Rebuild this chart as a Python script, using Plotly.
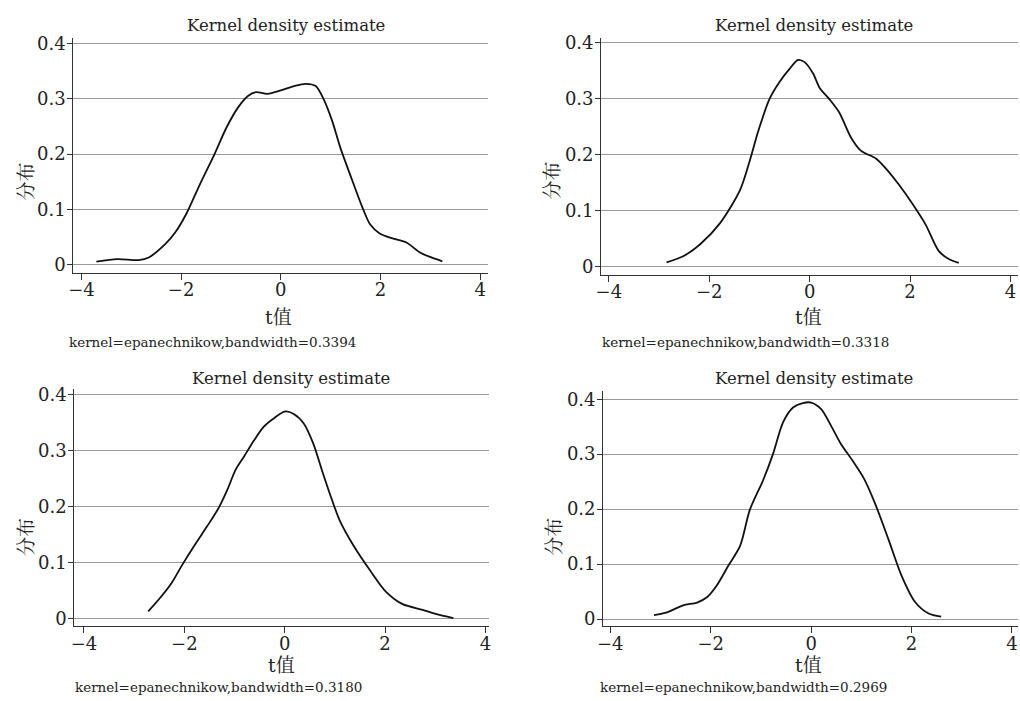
import plotly.graph_objects as go

# ---------------- data ----------------
p1_x = [-3.70, -3.28, -2.85, -2.65, -2.32, -2.12, -1.89, -1.63, -1.33, -1.09, -0.86, -0.66, -0.50,
        -0.27, 0.00, 0.27, 0.50, 0.70, 0.86, 1.03, 1.19, 1.43, 1.63, 1.79, 1.99, 2.26, 2.52, 2.79, 3.02, 3.24]
p1_y = [0.0054, 0.0101, 0.0083, 0.013, 0.037, 0.058, 0.093, 0.144, 0.200, 0.248, 0.284, 0.305, 0.312,
        0.309, 0.315, 0.323, 0.327, 0.323, 0.299, 0.260, 0.2125, 0.153, 0.105, 0.073, 0.056, 0.047, 0.040, 0.022, 0.013, 0.006]

p2_x = [-2.85, -2.51, -2.18, -1.78, -1.385, -1.19, -1.02, -0.79, -0.59, -0.40, -0.23, -0.10, 0.066,
        0.20, 0.40, 0.59, 0.82, 1.02, 1.32, 1.52, 1.78, 2.04, 2.31, 2.57, 2.77, 2.97]
p2_y = [0.0076, 0.019, 0.040, 0.078, 0.137, 0.190, 0.243, 0.301, 0.331, 0.353, 0.369, 0.365, 0.345,
        0.319, 0.298, 0.275, 0.231, 0.207, 0.193, 0.175, 0.146, 0.113, 0.075, 0.028, 0.0135, 0.0065]

p3_x = [-2.72, -2.49, -2.26, -2.03, -1.80, -1.54, -1.31, -1.14, -0.98, -0.81, -0.61, -0.42, -0.22,
        0.01, 0.18, 0.38, 0.57, 0.74, 0.94, 1.10, 1.37, 1.70, 2.02, 2.35, 2.75, 3.01, 3.36]
p3_y = [0.013, 0.0365, 0.063, 0.098, 0.131, 0.166, 0.199, 0.231, 0.266, 0.290, 0.319, 0.343, 0.358,
        0.3705, 0.366, 0.349, 0.313, 0.266, 0.213, 0.175, 0.131, 0.0866, 0.048, 0.026, 0.016, 0.0088, 0.0012]

p4_x = [-3.13, -2.87, -2.55, -2.27, -2.07, -1.88, -1.65, -1.415, -1.22, -0.955, -0.757, -0.56, -0.36,
        -0.165, 0.00, 0.20, 0.395, 0.59, 0.82, 1.05, 1.27, 1.54, 1.80, 2.07, 2.34, 2.59]
p4_y = [0.0072, 0.012, 0.025, 0.030, 0.040, 0.061, 0.097, 0.133, 0.199, 0.253, 0.301, 0.358, 0.385,
        0.393, 0.394, 0.382, 0.352, 0.319, 0.289, 0.256, 0.211, 0.145, 0.079, 0.031, 0.010, 0.0042]

titles = ["Kernel density estimate"] * 4
notes = ["kernel=epanechnikow,bandwidth=0.3394",
         "kernel=epanechnikow,bandwidth=0.3318",
         "kernel=epanechnikow,bandwidth=0.3180",
         "kernel=epanechnikow,bandwidth=0.2969"]
x_title = "t值"
y_title = "分布"
x_ticks = [-4, -2, 0, 2, 4]
y_ticks = [0, 0.1, 0.2, 0.3, 0.4]

# ---------------- layout geometry (pixels) ----------------
W, H = 1020, 701
FONT = "DejaVu Serif, Noto Serif CJK SC, Noto Sans CJK SC, serif"
TXT = "#222222"

panels = [
    dict(x=p1_x, y=p1_y, px=(68, 486), py=(32, 270), xr=(-4.16, 4.16), yr=(-0.0143, 0.4107),
         title=(282, 20), note=(61, 340), xt=(275, 315), yt=(20, 178)),
    dict(x=p2_x, y=p2_y, px=(600, 1020), py=(32, 272), xr=(-4.15, 4.15), yr=(-0.0141, 0.4088),
         title=(814, 20), note=(599, 340), xt=(809, 315), yt=(550, 177)),
    dict(x=p3_x, y=p3_y, px=(69, 487), py=(388, 628), xr=(-4.19, 4.075), yr=(-0.0129, 0.4106),
         title=(287, 377), note=(68, 690), xt=(278, 668), yt=(20, 538)),
    dict(x=p4_x, y=p4_y, px=(602, 1020), py=(390, 628), xr=(-4.14, 4.12), yr=(-0.0126, 0.415),
         title=(814, 377), note=(597, 690), xt=(809, 668), yt=(552, 538)),
]

def fx(px):
    return px / W

def fy(py):
    return 1 - py / H

fig = go.Figure()
annotations = []
layout_axes = {}
for i, p in enumerate(panels):
    n = "" if i == 0 else str(i + 1)
    fig.add_trace(go.Scatter(
        x=p["x"], y=p["y"], mode="lines", line=dict(color="#111111", width=1.8, shape="spline", smoothing=0.8),
        xaxis="x" + n, yaxis="y" + n, showlegend=False, hoverinfo="skip"))
    layout_axes["xaxis" + n] = dict(
        domain=[fx(p["px"][0]), fx(p["px"][1])], anchor="y" + n, range=list(p["xr"]),
        tickvals=x_ticks, ticks="outside", ticklen=6, tickwidth=1.2, tickcolor="#333333",
        ticklabelstandoff=-5,
        showline=True, linecolor="#333333", linewidth=1.3, showgrid=False, zeroline=False,
        tickfont=dict(family=FONT, size=18, color=TXT), fixedrange=True)
    layout_axes["yaxis" + n] = dict(
        domain=[fy(p["py"][1]), fy(p["py"][0])], anchor="x" + n, range=list(p["yr"]),
        tickvals=y_ticks, ticks="outside", ticklen=5, tickwidth=1.2, tickcolor="#333333",
        ticklabelstandoff=-2,
        showline=True, linecolor="#333333", linewidth=1.3, showgrid=True, gridcolor="#999999",
        gridwidth=1, zeroline=False, tickfont=dict(family=FONT, size=18, color=TXT), fixedrange=True)
    annotations.append(dict(text=titles[i], x=fx(p["title"][0]), y=fy(p["title"][1]), xref="paper", yref="paper",
                            xanchor="center", yanchor="middle", showarrow=False,
                            font=dict(family=FONT, size=16.5, color=TXT)))
    annotations.append(dict(text=notes[i], x=fx(p["note"][0]), y=fy(p["note"][1]), xref="paper", yref="paper",
                            xanchor="left", yanchor="middle", showarrow=False,
                            font=dict(family=FONT, size=13.5, color=TXT)))
    annotations.append(dict(text=x_title, x=fx(p["xt"][0]), y=fy(p["xt"][1]), xref="paper", yref="paper",
                            xanchor="center", yanchor="middle", showarrow=False,
                            font=dict(family=FONT, size=19, color=TXT)))
    annotations.append(dict(text=y_title, x=fx(p["yt"][0]), y=fy(p["yt"][1]), xref="paper", yref="paper",
                            xanchor="center", yanchor="middle", showarrow=False, textangle=-90,
                            font=dict(family=FONT, size=19, color=TXT)))

fig.update_layout(
    width=W, height=H, margin=dict(l=0, r=0, t=0, b=0),
    paper_bgcolor="white", plot_bgcolor="white",
    annotations=annotations, **layout_axes)

fig.write_html("out.html", config={"displayModeBar": False},
               post_script="document.body.style.margin='0';document.body.style.overflow='hidden';")
